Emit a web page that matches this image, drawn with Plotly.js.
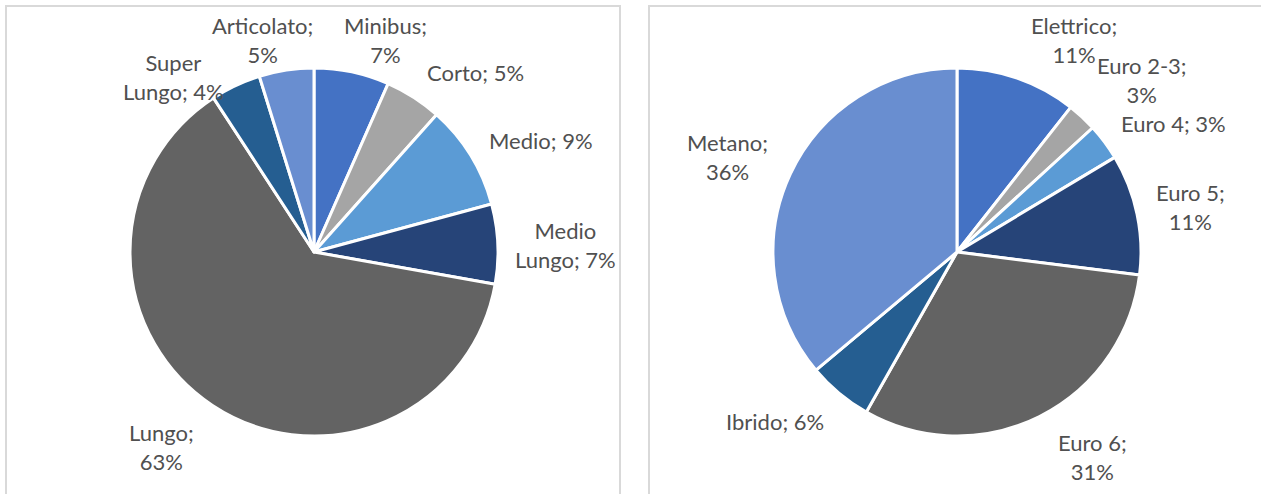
<!DOCTYPE html>
<html>
<head>
<meta charset="utf-8">
<script src="https://cdn.plot.ly/plotly-3.0.1.min.js"></script>
<style>
  html, body { margin: 0; padding: 0; background: #ffffff; }
  #graph { width: 1261px; height: 494px; }
</style>
</head>
<body>
<div id="graph"></div>
<script>
// bus fleet by length (left) and by engine type (right), shares in %
var lengthLabels = ['Minibus', 'Corto', 'Medio', 'Medio Lungo', 'Lungo', 'Super Lungo', 'Articolato'];
var lengthValues = [6.6, 5.0, 9.2, 7.0, 63.0, 4.4, 4.8];

var engineLabels = ['Elettrico', 'Euro 2-3', 'Euro 4', 'Euro 5', 'Euro 6', 'Ibrido', 'Metano'];
var engineValues = [10.6, 2.6, 3.2, 10.6, 31.2, 5.7, 36.1];

// office palette
var colors = ['#4472C4', '#A5A5A5', '#5B9BD5', '#264478', '#636363', '#255E91', '#698ED0'];

var W = 1261, H = 494;

// where excel put each data label (pixel centres) and where it wrapped the line
var lengthLabelPos = [[385, 40], [475, 72], [541, 140], [565, 245], [162, 447], [173, 77], [262, 40]];
var lengthWrap = ['name;<br>pct', 'name; pct', 'name; pct', 'Medio<br>Lungo; pct', 'name;<br>pct', 'Super<br>Lungo; pct', 'name;<br>pct'];
var engineLabelPos = [[1074, 40], [1142, 80], [1173, 124], [1190, 207], [1092, 457], [775, 421], [728, 157]];
var engineWrap = ['name;<br>pct', 'name;<br>pct', 'name; pct', 'name;<br>pct', 'name;<br>pct', 'name; pct', 'name;<br>pct'];

function pieTrace(labels, values, x0, x1) {
    return {
        type: 'pie',
        labels: labels,
        values: values,
        textinfo: 'none',
        sort: false,
        direction: 'clockwise',
        rotation: 0,
        marker: { colors: colors, line: { color: '#ffffff', width: 3 } },
        hoverinfo: 'label+percent',
        domain: { x: [x0 / W, x1 / W], y: [1 - 436 / H, 1 - 68 / H] }
    };
}

function labelNotes(labels, values, wrap, pos) {
    var total = values.reduce(function (a, b) { return a + b; }, 0);
    var notes = [];
    for (var i = 0; i < labels.length; i++) {
        var pct = Math.round(values[i] / total * 100) + '%';
        notes.push({
            xref: 'paper', yref: 'paper',
            x: pos[i][0] / W, y: 1 - pos[i][1] / H,
            xanchor: 'center', yanchor: 'middle', align: 'center',
            showarrow: false,
            text: wrap[i].replace('name', labels[i]).replace('pct', pct),
            font: { family: 'Lato, sans-serif', size: 22, color: '#505050' }
        });
    }
    return notes;
}

var data = [
    pieTrace(lengthLabels, lengthValues, 130, 498),
    pieTrace(engineLabels, engineValues, 773, 1141)
];

var layout = {
    width: W,
    height: H,
    margin: { l: 0, r: 0, t: 0, b: 0 },
    showlegend: false,
    paper_bgcolor: '#ffffff',
    annotations: labelNotes(lengthLabels, lengthValues, lengthWrap, lengthLabelPos)
        .concat(labelNotes(engineLabels, engineValues, engineWrap, engineLabelPos)),
    // the two chart frames, open at the bottom
    shapes: [
        { type: 'rect', xref: 'paper', yref: 'paper', x0: 6 / W, x1: 620 / W, y0: -0.1, y1: 1 - 6 / H,
          line: { color: '#d9d9d9', width: 2 } },
        { type: 'rect', xref: 'paper', yref: 'paper', x0: 649 / W, x1: 1.1, y0: -0.1, y1: 1 - 6 / H,
          line: { color: '#d9d9d9', width: 2 } }
    ]
};

Plotly.newPlot('graph', data, layout, { staticPlot: true });
</script>
</body>
</html>
